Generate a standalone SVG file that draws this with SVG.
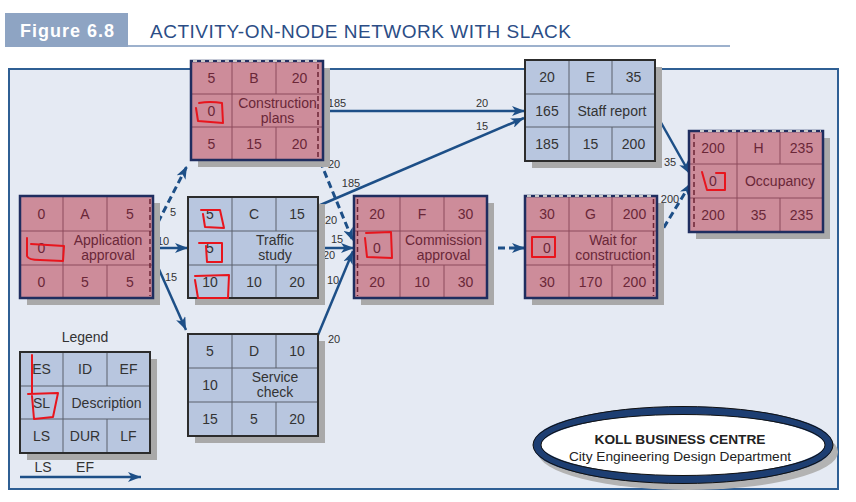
<svg xmlns="http://www.w3.org/2000/svg" width="856" height="502" viewBox="0 0 856 502">
<defs>
<marker id="ah" markerUnits="userSpaceOnUse" markerWidth="14" markerHeight="10" refX="13" refY="5" orient="auto"><path d="M0,0 L13,5 L0,10 L3.5,5 Z" fill="#1d4f87"/></marker>
</defs>
<style>
text{font-family:"Liberation Sans",Arial,sans-serif}
.n{font-size:14px;text-anchor:middle;dominant-baseline:central}
.pk .f{fill:#cd8c9a}
.pk .g{stroke:#8c4a5c;stroke-width:1;fill:none}
.pk .b{fill:none;stroke:#1f2d5f;stroke-width:2.5}
.pk text{fill:#6a2738}
.bl .f{fill:#b8c6df}
.bl .g{stroke:#5a606c;stroke-width:1;fill:none}
.bl .b{fill:none;stroke:#2c2c2c;stroke-width:2}
.bl text{fill:#333}
.sh{fill:#a9a9a9}
.dl{stroke:#6b2334;stroke-width:1.5;stroke-dasharray:5,3;fill:none}
.tb{stroke:#c8c8c8;stroke-width:2;stroke-dasharray:4,4;fill:none}
.c{stroke:#1d4f87;stroke-width:2.5;fill:none;marker-end:url(#ah)}
.cd{stroke-dasharray:7,4;stroke-width:3}
.lb{font-size:11px;fill:#333;text-anchor:middle;dominant-baseline:central}
.red{stroke:#e8151d;stroke-width:2;fill:none;stroke-linejoin:round;stroke-linecap:round}
</style>
<rect width="856" height="502" fill="#fff"/>
<g id="header">
<rect x="5" y="13" width="123" height="34" fill="#8ea4c3"/>
<text x="20" y="37" font-size="18" font-weight="bold" fill="#fff" textLength="94">Figure 6.8</text>
<text x="150" y="38" font-size="19" fill="#2b4d86" textLength="421">ACTIVITY-ON-NODE NETWORK WITH SLACK</text>
<line x1="128" y1="46" x2="730" y2="46" stroke="#9db1cd" stroke-width="2"/>
</g>
<rect id="panel" x="9" y="69" width="829" height="420" fill="#e5eaf3" stroke="#2f5f94" stroke-width="2"/>

<g id="connectors">
<path class="c cd" d="M153,232L187,166"/>
<path class="c" d="M153,248H188"/>
<path class="c" d="M153,256L186,330"/>
<path class="c" d="M323,111H525"/>
<path class="c cd" d="M320,161L353,241"/>
<path class="c" d="M318,206L524,118"/>
<path class="c" d="M318,248H354"/>
<path class="c" d="M318,335L353,251"/>
<path class="c cd" d="M487,248H525"/>
<path class="c" d="M655,112L690,174"/>
<path class="c cd" d="M658,237L691,183"/>
<text class="lb" x="173" y="212">5</text>
<text class="lb" x="163" y="241">10</text>
<text class="lb" x="171" y="277">15</text>
<text class="lb" x="337" y="103">185</text>
<text class="lb" x="482" y="103">20</text>
<text class="lb" x="482" y="126">15</text>
<text class="lb" x="351" y="183">185</text>
<text class="lb" x="334" y="164">20</text>
<text class="lb" x="331" y="220">20</text>
<text class="lb" x="337" y="239">15</text>
<text class="lb" x="329" y="255">20</text>
<text class="lb" x="333" y="280">10</text>
<text class="lb" x="334" y="339">20</text>
<text class="lb" x="670" y="162">35</text>
<text class="lb" x="670" y="199">200</text>
</g>

<g id="A" class="pk">
<rect class="sh" x="27" y="203" width="133" height="102"/>
<rect class="f" x="20" y="196" width="133" height="102"/>
<path class="g" d="M20,231H153M20,265H153M63,196V298M107,196V231M107,265V298"/>
<path class="dl" d="M150,199V296"/>
<rect class="b" x="20" y="196" width="133" height="102"/>
<text class="n" x="41.5" y="213.5">0</text><text class="n" x="85" y="213.5">A</text><text class="n" x="130" y="213.5">5</text>
<text class="n" x="41.5" y="248">0</text><text class="n" x="108" y="240">Application</text><text class="n" x="108" y="254.5">approval</text>
<text class="n" x="41.5" y="281.5">0</text><text class="n" x="85" y="281.5">5</text><text class="n" x="130" y="281.5">5</text>
</g>

<g id="B" class="pk">
<rect class="sh" x="198" y="68" width="132" height="99"/>
<rect class="f" x="191" y="61" width="132" height="99"/>
<path class="g" d="M191,94H323M191,127H323M232,61V160M276,61V94M276,127V160"/>
<path class="dl" d="M318,64V158"/>
<rect class="b" x="191" y="61" width="132" height="99"/>
<path class="tb" d="M193,61H321"/>
<text class="n" x="211.5" y="77.5">5</text><text class="n" x="254" y="77.5">B</text><text class="n" x="299.5" y="77.5">20</text>
<text class="n" x="211.5" y="110.5">0</text><text class="n" x="277.5" y="102.5">Construction</text><text class="n" x="277.5" y="117.5">plans</text>
<text class="n" x="211.5" y="143.5">5</text><text class="n" x="254" y="143.5">15</text><text class="n" x="299.5" y="143.5">20</text>
</g>

<g id="C" class="bl">
<rect class="sh" x="195" y="204" width="130" height="101"/>
<rect class="f" x="188" y="197" width="130" height="101"/>
<path class="g" d="M188,231H318M188,265H318M232,197V298M276,197V231M276,265V298"/>
<rect class="b" x="188" y="197" width="130" height="101"/>
<text class="n" x="210" y="214">5</text><text class="n" x="254" y="214">C</text><text class="n" x="297" y="214">15</text>
<text class="n" x="210" y="248">5</text><text class="n" x="275" y="240">Traffic</text><text class="n" x="275" y="255">study</text>
<text class="n" x="210" y="281.5">10</text><text class="n" x="254" y="281.5">10</text><text class="n" x="297" y="281.5">20</text>
</g>

<g id="D" class="bl">
<rect class="sh" x="195" y="341" width="130" height="102"/>
<rect class="f" x="188" y="334" width="130" height="102"/>
<path class="g" d="M188,368H318M188,402H318M232,334V436M276,334V368M276,402V436"/>
<rect class="b" x="188" y="334" width="130" height="102"/>
<text class="n" x="210" y="351">5</text><text class="n" x="254" y="351">D</text><text class="n" x="297" y="351">10</text>
<text class="n" x="210" y="385">10</text><text class="n" x="275" y="377">Service</text><text class="n" x="275" y="391.5">check</text>
<text class="n" x="210" y="419">15</text><text class="n" x="254" y="419">5</text><text class="n" x="297" y="419">20</text>
</g>

<g id="E" class="bl">
<rect class="sh" x="532" y="67" width="130" height="101"/>
<rect class="f" x="525" y="60" width="130" height="101"/>
<path class="g" d="M525,94H655M525,127H655M569,60V161M612,60V94M612,127V161"/>
<rect class="b" x="525" y="60" width="130" height="101"/>
<text class="n" x="547" y="77">20</text><text class="n" x="590.5" y="77">E</text><text class="n" x="633.5" y="77">35</text>
<text class="n" x="547" y="110.5">165</text><text class="n" x="612" y="110.5">Staff report</text>
<text class="n" x="547" y="144">185</text><text class="n" x="590.5" y="144">15</text><text class="n" x="633.5" y="144">200</text>
</g>

<g id="F" class="pk">
<rect class="sh" x="361" y="203" width="133" height="102"/>
<rect class="f" x="354" y="196" width="133" height="102"/>
<path class="g" d="M354,231H487M354,265H487M400,196V298M444,196V231M444,265V298"/>
<path class="dl" d="M357.5,199V296"/>
<rect class="b" x="354" y="196" width="133" height="102"/>
<text class="n" x="377" y="213.5">20</text><text class="n" x="422" y="213.5">F</text><text class="n" x="465.5" y="213.5">30</text>
<text class="n" x="377" y="248">0</text><text class="n" x="443.5" y="240">Commission</text><text class="n" x="443.5" y="254.5">approval</text>
<text class="n" x="377" y="281.5">20</text><text class="n" x="422" y="281.5">10</text><text class="n" x="465.5" y="281.5">30</text>
</g>

<g id="G" class="pk">
<rect class="sh" x="532" y="203" width="132" height="102"/>
<rect class="f" x="525" y="196" width="132" height="102"/>
<path class="g" d="M525,231H657M525,265H657M569,196V298M612,196V231M612,265V298"/>
<path class="dl" d="M653.5,199V296"/>
<rect class="b" x="525" y="196" width="132" height="102"/>
<path class="tb" d="M527,196H655"/>
<text class="n" x="547" y="213.5">30</text><text class="n" x="590.5" y="213.5">G</text><text class="n" x="634.5" y="213.5">200</text>
<text class="n" x="547" y="248">0</text><text class="n" x="613" y="240">Wait for</text><text class="n" x="613" y="254.5">construction</text>
<text class="n" x="547" y="281.5">30</text><text class="n" x="590.5" y="281.5">170</text><text class="n" x="634.5" y="281.5">200</text>
</g>

<g id="H" class="pk">
<rect class="sh" x="696" y="138" width="134" height="101"/>
<rect class="f" x="689" y="131" width="134" height="101"/>
<path class="g" d="M689,164H823M689,198H823M737,131V232M780,131V164M780,198V232"/>
<path class="dl" d="M694,134V230"/>
<rect class="b" x="689" y="131" width="134" height="101"/>
<path class="tb" d="M700,131H821"/>
<text class="n" x="713" y="147.5">200</text><text class="n" x="758.5" y="147.5">H</text><text class="n" x="801.5" y="147.5">235</text>
<text class="n" x="713" y="181">0</text><text class="n" x="780" y="181">Occupancy</text>
<text class="n" x="713" y="215">200</text><text class="n" x="758.5" y="215">35</text><text class="n" x="801.5" y="215">235</text>
</g>

<g id="legend" class="bl">
<text class="n" x="85" y="337">Legend</text>
<rect class="sh" x="27" y="359" width="130" height="101"/>
<rect class="f" x="20" y="352" width="130" height="101"/>
<path class="g" d="M20,386H150M20,419H150M63,352V453M107,352V386M107,419V453"/>
<rect class="b" x="20" y="352" width="130" height="101"/>
<text class="n" x="41.5" y="369">ES</text><text class="n" x="85" y="369">ID</text><text class="n" x="128.5" y="369">EF</text>
<text class="n" x="41.5" y="402.5">SL</text><text class="n" x="106.5" y="402.5">Description</text>
<text class="n" x="41.5" y="436">LS</text><text class="n" x="85" y="436">DUR</text><text class="n" x="128.5" y="436">LF</text>
<text class="n" x="43" y="467">LS</text><text class="n" x="85" y="467">EF</text>
<path class="c" d="M20,477H141"/>
</g>

<g id="koll">
<ellipse cx="688" cy="452" rx="150" ry="38" fill="#b3b3b3"/>
<ellipse cx="683" cy="445" rx="146" ry="34.5" fill="#fff" stroke="#1d3e72" stroke-width="8"/>
<ellipse cx="683" cy="445" rx="150" ry="38.5" fill="none" stroke="#111" stroke-width="1"/>
<ellipse cx="683" cy="445" rx="142" ry="30.5" fill="none" stroke="#111" stroke-width="1"/>
<text x="680" y="444" font-size="13.7" font-weight="bold" text-anchor="middle" fill="#222">KOLL BUSINESS CENTRE</text>
<text x="680" y="461" font-size="13.7" text-anchor="middle" fill="#222">City Engineering Design Department</text>
</g>

<g id="annotations">
<path class="red" d="M27,238 L27,256 Q28,260 40,260 L63,261 L64,246 L31,244"/>
<path class="red" d="M199,103 Q210,101 222,103 L223,123 L198,121 L196,108"/>
<path class="red" d="M201,210 L220,210 L224,228 L205,227 L203,214"/>
<path class="red" d="M199,243 L222,243 L222,262 L207,262 L206,246"/>
<path class="red" d="M195,276 L229,275 L228,298 L198,298 L195,280"/>
<path class="red" d="M366,233 L391,232 L392,258 L367,257 L365,238"/>
<rect class="red" x="532" y="237" width="23" height="20"/>
<path class="red" d="M702,172 L707,190 L725,190 L725,173 L716,173"/>
<path class="red" d="M32,355 L32,393 M28,394 L58,393 L53,417 L34,419 L32,396"/>
</g>
</svg>
